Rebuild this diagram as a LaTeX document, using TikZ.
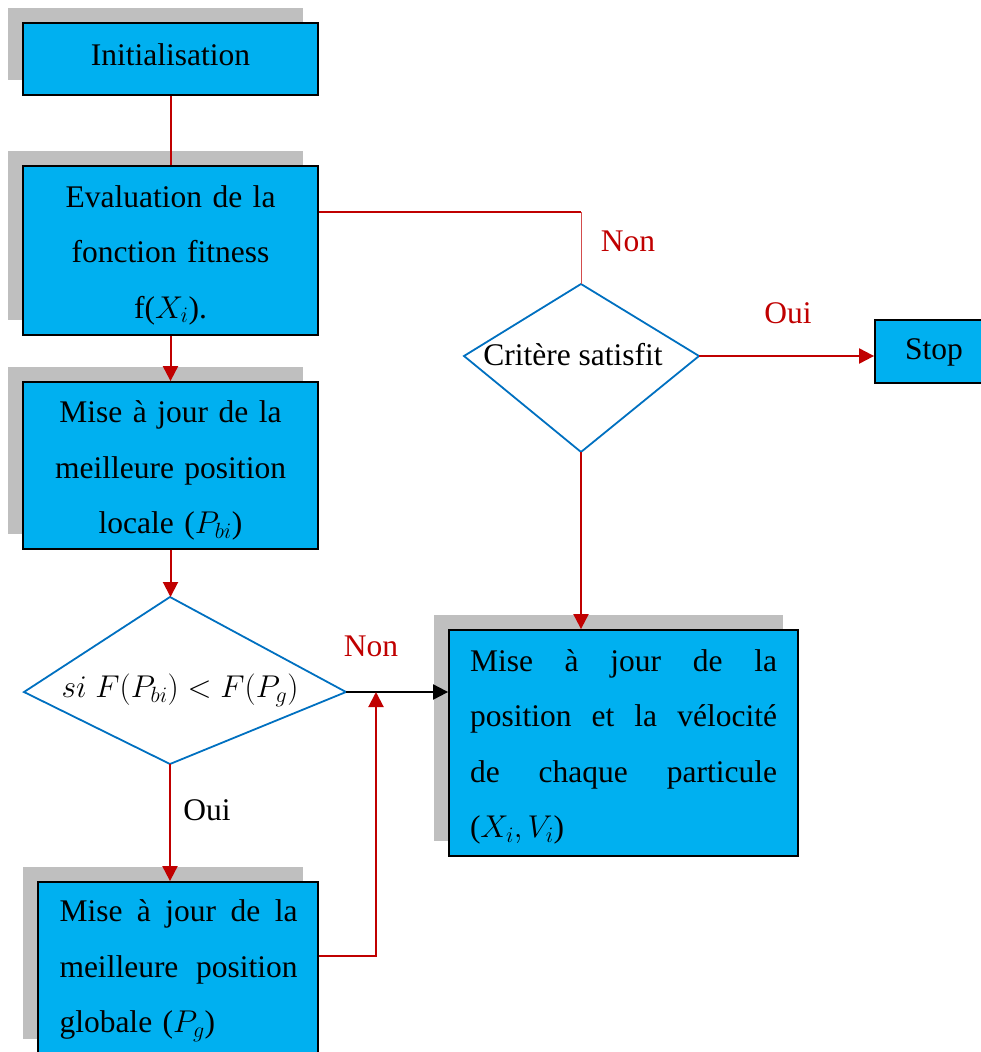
\RequirePackage{fix-cm}
\documentclass[tikz,border=0pt]{standalone}
\usepackage{fontspec}
\setmainfont{Liberation Serif}
\usetikzlibrary{arrows.meta,shadows,calc}

\definecolor{boxblue}{HTML}{00B0F0}
\definecolor{shadowgray}{HTML}{BFBFBF}
\definecolor{flowred}{HTML}{C00000}
\definecolor{diamblue}{HTML}{0070C0}

\newcommand\flowfont{\fontsize{31.5}{55.5}\selectfont}
% a line stretched to the given width, words spread apart
\newcommand\spreadline[2]{\leavevmode\hbox to #1{#2}}

\tikzset{
  box/.style={draw=black, line width=1.8pt, fill=boxblue, inner sep=0pt},
  shade/.style={general shadow={fill=shadowgray, shadow xshift=-15.5pt, shadow yshift=15.5pt}},
  txt/.style={font=\flowfont, inner sep=0pt, align=center},
  diam/.style={draw=diamblue, line width=1.8pt, line join=miter},
  redline/.style={draw=flowred, line width=2pt},
  thinred/.style={draw=flowred!70, line width=1pt},
  redarrow/.style={redline, -{Triangle[length=15pt,width=15pt]}},
  blackarrow/.style={draw=black, line width=2pt, -{Triangle[length=15pt,width=15pt]}},
  lbl/.style={font=\flowfont, inner sep=0pt},
}

\begin{document}
\begin{tikzpicture}[x=1pt,y=-1pt]
\useasboundingbox (0,0) rectangle (981,1052);
\clip (0,0) rectangle (981,1052);

% left column of process boxes
\node[box,shade,minimum width=295pt,minimum height=72pt] (init) at (170.5,59) {};
\node[txt] (initT) at ($(init.center)+(0,-4)$) {Initialisation};

\node[box,shade,minimum width=295pt,minimum height=169pt] (eval) at (170.5,250.5) {};
\node[txt,text width=295pt] (evalT) at ($(eval.center)+(0,4.5)$)
  {Evaluation de la\\fonction fitness\\f($X_i$).};

\node[box,shade,minimum width=295pt,minimum height=167pt] (best) at (170.5,465.5) {};
\node[txt,text width=295pt] (bestT) at ($(best.center)+(0,5)$)
  {Mise à jour de la\\meilleure position\\locale ($P_{bi}$)};

\node[box,shade,minimum width=280pt,minimum height=172pt] (glob) at (178,968) {};
\node[txt,text width=238pt,align=left] (globT) at ($(glob.center)+(0.5,3)$)
  {\spreadline{238pt}{Mise\hfill à\hfill jour\hfill de\hfill la}\\
   \spreadline{238pt}{meilleure\hfill position}\\
   globale ($P_g$)};

% right part
\node[box,shade,minimum width=349pt,minimum height=226pt] (majpos) at (623.5,743) {};
\node[txt,text width=307pt,align=left] (majposT) at ($(majpos.center)+(0,4)$)
  {\spreadline{307pt}{Mise\hfill à\hfill jour\hfill de\hfill la}\\
   \spreadline{307pt}{position\hfill et\hfill la\hfill vélocité}\\
   \spreadline{307pt}{de\hfill chaque\hfill particule}\\
   ($X_i,V_i$)};

\node[box,minimum width=118pt,minimum height=63pt] (stop) at (934,351.5) {};
\node[txt] (stopT) at ($(stop.center)+(0,1)$) {Stop};

% decision: comparison of local and global best
\coordinate (d1t) at (170,597);
\coordinate (d1l) at (24,692);
\coordinate (d1r) at (346,692);
\coordinate (d1b) at (170,764);
\draw[diam] (d1t) -- (d1r) -- (d1b) -- (d1l) -- cycle;
\node[lbl] (d1txt) at (180,690) {$si\;F(P_{bi}) < F(P_g)$};

% decision: stopping criterion
\coordinate (d2t) at (581,284);
\coordinate (d2l) at (464,356);
\coordinate (d2r) at (699,356);
\coordinate (d2b) at (581,452);
\draw[diam] (d2t) -- (d2r) -- (d2b) -- (d2l) -- cycle;
\node[lbl] (d2txt) at (573,355) {Critère satisfit};

% connectors
\draw[redline] (init.south) -- (eval.north);
\draw[redarrow] (eval.south) -- (best.north);
\draw[redarrow] (best.south) -- (best.south |- d1t);
\draw[redarrow] (d1b) -- (d1b |- glob.north);
\draw[blackarrow] (d1r) -- (d1r -| majpos.west);
\coordinate (merge) at (376,692);
\draw[redarrow] ($(glob.north east)+(0,75)$) -| (merge);
\coordinate (turn) at (581,212);
\draw[redline] (turn -| eval.east) -- (turn);
\draw[thinred] (turn) -- (d2t);
\draw[redarrow] (d2r) -- (d2r -| stop.west);
\draw[redarrow] (d2b) -- (d2b |- majpos.north);

% branch labels
\node[lbl,text=flowred] (non1) at (628,241) {Non};
\node[lbl,text=flowred] (oui1) at (788,313) {Oui};
\node[lbl,text=flowred] (non2) at (371,646) {Non};
\node[lbl] (oui2) at (207,810) {Oui};
\end{tikzpicture}
\end{document}
